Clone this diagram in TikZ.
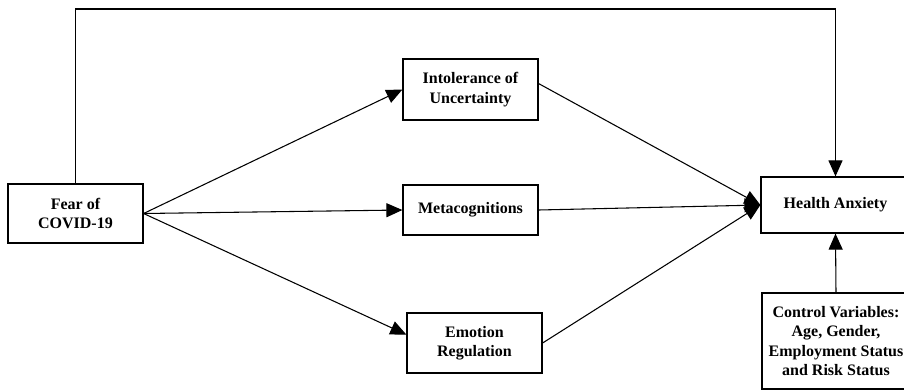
\documentclass[tikz,border=0pt]{standalone}
\usepackage{fontspec}
\setmainfont{Liberation Serif}
\usetikzlibrary{arrows.meta}

\begin{document}
\begin{tikzpicture}[x=0.75pt,y=-0.75pt,
   box/.style={draw,line width=0.9pt,align=center,inner sep=2pt,
     font=\fontsize{12pt}{14.5pt}\selectfont\bfseries,minimum width=101.25pt},
   arr/.style={line width=0.8pt,-{Triangle[length=12pt,width=10.5pt]}}]
   \useasboundingbox (0,0) rectangle (904,390);
   \node[box,minimum height=44.25pt] (fear) at (75.5,213.5) {Fear of\\COVID-19};
   \node[box,minimum height=45.75pt] (intol) at (470.5,89.5) {Intolerance of\\Uncertainty};
   \node[box,minimum height=37.5pt] (meta) at (470.5,210) {Metacognitions};
   \node[box,minimum height=45pt] (emo) at (474.5,343) {Emotion\\Regulation};
   \node[box,minimum width=111.75pt,minimum height=42pt] (health) at (835.5,205) {Health Anxiety};
   \node[box,minimum width=111pt,minimum height=72pt] (ctrl) at (836,341) {Control Variables:\\Age, Gender,\\Employment Status\\and Risk Status};
   \coordinate (rail) at (400,9);
   \draw[arr] (fear.east)--(intol.west);
   \draw[arr] (fear.east)--(meta.west);
   \draw[arr] (fear.east)--(emo.173);
   \draw[arr] (intol.5)--(health.west);
   \draw[arr] (meta.east)--(health.west);
   \draw[arr] (emo.east)--(health.west);
   \draw[arr] (fear.north) |- (rail) -| (health.north);
   \draw[arr] (ctrl.north)--(health.south);
\end{tikzpicture}
\end{document}
